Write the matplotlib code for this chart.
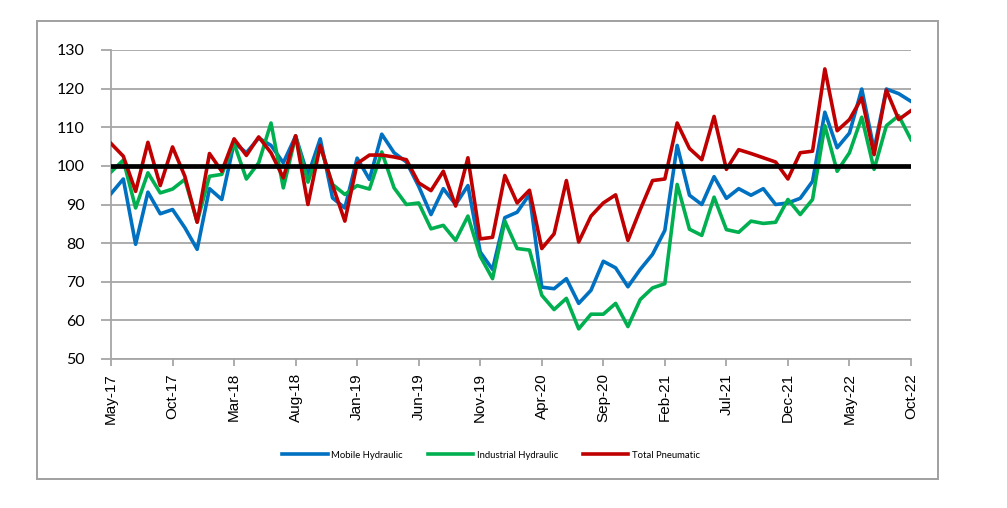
import matplotlib.pyplot as plt
from matplotlib.patches import Rectangle

# months May-17 .. Oct-22 (66 points), tick every 5 months
month_labels = ["May-17", "Oct-17", "Mar-18", "Aug-18", "Jan-19", "Jun-19", "Nov-19",
                "Apr-20", "Sep-20", "Feb-21", "Jul-21", "Dec-21", "May-22", "Oct-22"]

mobile_hydraulic = [
    92.8, 96.6, 79.7, 93.2, 87.6, 88.7, 84.0, 78.4, 94.1, 91.3,
    106.0, 103.4, 107.2, 105.3, 100.8, 107.7, 97.5, 107.0, 91.7, 89.1,
    102.0, 96.5, 108.2, 103.4, 101.0, 94.7, 87.4, 94.1, 90.0, 94.9,
    77.7, 73.2, 86.6, 88.0, 92.6, 68.6, 68.2, 70.8, 64.4, 67.8,
    75.3, 73.6, 68.7, 73.2, 77.1, 83.3, 105.3, 92.4, 90.0, 97.2,
    91.6, 94.1, 92.4, 94.1, 90.0, 90.4, 91.6, 96.0, 113.9, 104.7,
    108.5, 119.9, 104.2, 119.9, 118.7, 116.7]

industrial_hydraulic = [
    98.4, 101.5, 89.1, 98.2, 93.0, 94.0, 96.5, 85.5, 97.3, 97.8,
    105.8, 96.6, 100.8, 111.1, 94.3, 107.7, 95.8, 105.0, 95.2, 92.6,
    94.9, 94.0, 103.6, 94.3, 90.0, 90.4, 83.7, 84.6, 80.7, 87.0,
    76.6, 70.8, 85.7, 78.6, 78.2, 66.5, 62.8, 65.7, 57.8, 61.6,
    61.6, 64.4, 58.4, 65.4, 68.4, 69.5, 95.2, 83.6, 82.0, 91.9,
    83.5, 82.8, 85.7, 85.1, 85.4, 91.3, 87.4, 91.3, 110.4, 98.6,
    103.4, 112.6, 99.1, 110.4, 113.0, 106.8]

total_pneumatic = [
    105.8, 102.5, 93.4, 106.1, 94.9, 104.9, 97.3, 85.4, 103.2, 98.6,
    107.0, 102.7, 107.5, 103.4, 96.9, 107.8, 90.0, 105.3, 95.0, 85.7,
    100.6, 102.8, 102.8, 102.3, 101.6, 95.6, 93.6, 98.6, 89.6, 102.1,
    81.1, 81.5, 97.5, 90.4, 93.7, 78.6, 82.4, 96.2, 80.3, 87.0,
    90.4, 92.5, 80.7, 88.7, 96.2, 96.6, 111.1, 104.5, 101.6, 112.8,
    99.1, 104.2, 103.2, 102.1, 101.0, 96.6, 103.4, 103.8, 125.1, 109.1,
    112.0, 117.6, 102.9, 119.6, 112.0, 114.3]

months = list(range(len(mobile_hydraulic)))

fig = plt.figure(figsize=(10.07, 5.08), dpi=100)

# outer frame around the chart
fig.patches.append(Rectangle((37 / 1007, 1 - 479 / 508), (938 - 37) / 1007, (479 - 21) / 508,
                             transform=fig.transFigure, fill=False,
                             edgecolor="#a0a0a0", linewidth=1.4))

ax = fig.add_axes([111 / 1007, 1 - 359 / 508, 800 / 1007, 309 / 508])

grid_col = "#a6a6a6"
ax.set_ylim(50, 130)
ax.set_xlim(0, 65)
ax.set_yticks(range(50, 131, 10))
ax.yaxis.grid(True, color=grid_col, linewidth=1.3)
ax.set_axisbelow(True)

ax.plot(months, mobile_hydraulic, color="#0070c0", linewidth=2.6, label="Mobile Hydraulic", zorder=3)
ax.plot(months, industrial_hydraulic, color="#00b050", linewidth=2.6, label="Industrial Hydraulic", zorder=3)
ax.plot(months, total_pneumatic, color="#c00000", linewidth=2.6, label="Total Pneumatic", zorder=4)
ax.axhline(100, color="black", linewidth=3.4, zorder=5)

for side in ["top", "right"]:
    ax.spines[side].set_visible(False)
for side in ["left", "bottom"]:
    ax.spines[side].set_color(grid_col)
    ax.spines[side].set_linewidth(1.3)

ax.set_xticks(range(0, 66, 5))
ax.set_xticklabels(month_labels, rotation=90, fontsize=11, family=["Liberation Sans", "DejaVu Sans"])
ax.tick_params(axis="x", length=5, width=1.3, color=grid_col, pad=5)
ax.tick_params(axis="y", length=7, width=1.3, color=grid_col, pad=12)
for lab in ax.get_yticklabels():
    lab.set_fontsize(11.5)
    lab.set_family(["Lato", "DejaVu Sans"])

fig.legend(loc="center", bbox_to_anchor=(491 / 1007, 1 - 455 / 508), ncol=3, frameon=False,
           prop={"family": ["Lato", "DejaVu Sans"], "size": 6.8},
           handlelength=4.8, columnspacing=2.6, handletextpad=0.4)

fig.savefig("out.png", dpi=100)
